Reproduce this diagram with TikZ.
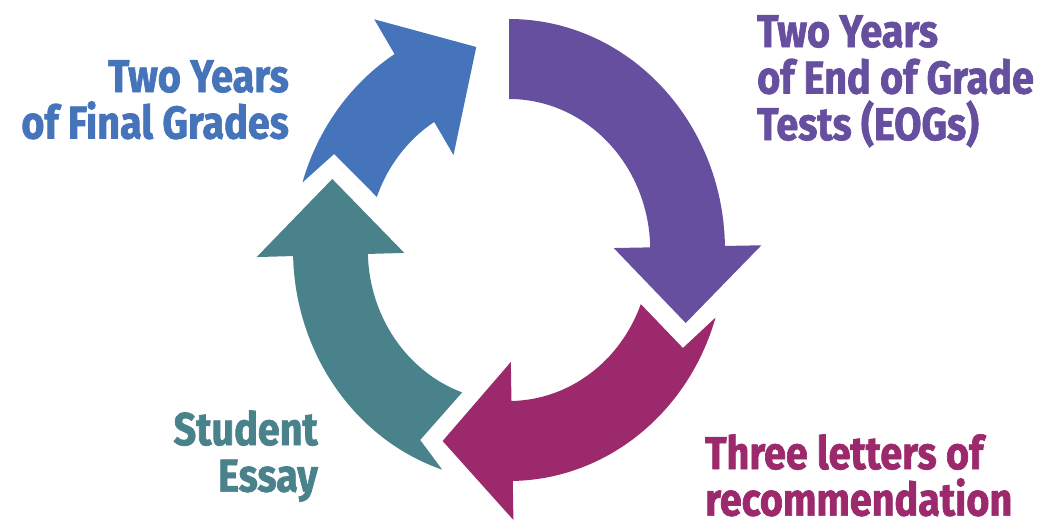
\documentclass[tikz,border=0pt]{standalone}
\usepackage{fontspec}
\usepackage{xcolor}
\newfontfamily\labelfont{Fira Sans}[FakeStretch=0.86, BoldFeatures={FakeBold=1.5}]
\definecolor{gradeblue}{RGB}{70,116,186}
\definecolor{eogpurple}{RGB}{103,79,160}
\definecolor{lettermagenta}{RGB}{155,41,108}
\definecolor{essayteal}{RGB}{74,130,140}

\begin{document}
\begin{tikzpicture}[x=1pt, y=1pt,
    steplabel/.style={inner sep=0pt, font=\labelfont\bfseries\fontsize{46}{46.5}\selectfont}]
    \useasboundingbox (0,0) rectangle (1040,523);

    % Cycle of arrows (a little narrower than tall)
    \begin{scope}[shift={(509,273)}, xscale=0.935]
        % Final grades
        \fill[gradeblue] (163:231) arc[start angle=163, end angle=122, radius=231]
            -- (122:272) -- (-35,203) -- (122:112) -- (122:151)
            arc[start angle=122, end angle=159.4, radius=151] -- (-187,96) -- cycle;

        % End of grade tests
        \fill[eogpurple] (90:231) -- (90:151) arc[start angle=90, end angle=1, radius=151]
            -- (1:112) -- (189,-73) -- (1:270) -- (1:231)
            arc[start angle=1, end angle=90, radius=231] -- cycle;

        % Letters
        \fill[lettermagenta] (-17:231) arc[start angle=-17, end angle=-89, radius=231]
            -- (-89:270) -- (-71,-191) -- (-89:112) -- (-89:151)
            arc[start angle=-89, end angle=-21, radius=151] -- (186,-98) -- cycle;

        % Essay
        \fill[essayteal] (-108:231) arc[start angle=-108, end angle=-178.5, radius=231]
            -- (-178.5:270) -- (-189,71) -- (-178.5:112) -- (-178.5:151)
            arc[start angle=-178.5, end angle=-109.4, radius=151] -- (-95,-190) -- cycle;
    \end{scope}

    % Labels
    \node[steplabel, gradeblue, align=right, anchor=north east] (grades) at (289,463)
        {Two Years\\of Final Grades};
    \node[steplabel, eogpurple, align=left, anchor=north west] (eog) at (757,508)
        {Two Years\\of End of Grade\\Tests (EOGs)};
    \node[steplabel, lettermagenta, align=left, anchor=north west] (letters) at (705,89)
        {Three letters of\\recommendation};
    \node[steplabel, essayteal, align=right, anchor=north east] (essay) at (318,113)
        {Student\\Essay};
\end{tikzpicture}
\end{document}
